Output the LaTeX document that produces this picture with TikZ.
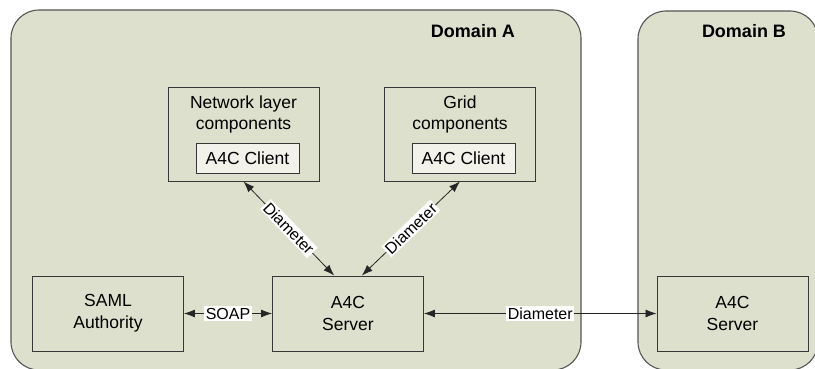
\documentclass[tikz,border=0pt]{standalone}
\usepackage{fontspec}
\setmainfont{Liberation Sans}
\usetikzlibrary{arrows.meta,positioning}

\definecolor{domfill}{RGB}{221,224,204}
\definecolor{clientfill}{RGB}{242,242,234}
\definecolor{edgegray}{RGB}{55,55,55}

\begin{document}
\begin{tikzpicture}[x=1pt,y=-1pt,
  domainbox/.style={draw=edgegray!85,fill=domfill,line width=1.1pt,rounded corners=28pt},
  compbox/.style={draw=edgegray,line width=0.9pt,minimum width=151pt,minimum height=75pt,align=center,
    font=\fontsize{17.5}{22}\selectfont},
  clientbox/.style={draw=edgegray,fill=clientfill,line width=0.9pt,minimum width=103pt,minimum height=30pt,
    inner sep=0pt,font=\fontsize{17.5}{21}\selectfont},
  proto/.style={fill=white,inner sep=1.5pt,font=\fontsize{16}{18}\selectfont},
  link/.style={{Latex[length=11pt,width=8pt]}-{Latex[length=11pt,width=8pt]},line width=0.8pt,draw=black!85}]

\useasboundingbox (0,0) rectangle (815,369);

%Domains
\draw[domainbox] (11,10) rectangle (581,370);
\draw[domainbox] (638,11) rectangle (818,370);
\node (domA) at (473,31) {\fontsize{18}{20}\selectfont\bfseries Domain A};
\node (domB) at (744,31) {\fontsize{18}{20}\selectfont\bfseries Domain B};

%Components in Domain A
\node[compbox,minimum height=94pt] (net) at (243.5,134) {};
\node[align=center,font=\fontsize{17.5}{21}\selectfont] (nettext) at (243.5,114) {Network layer\\components};
\node[clientbox] (netclient) at (247.5,158) {A4C Client};

\node[compbox,minimum height=94pt] (grid) at (460,134) {};
\node[align=center,font=\fontsize{17.5}{21}\selectfont] (gridtext) at (460,114) {Grid\\components};
\node[clientbox] (gridclient) at (463.5,158) {A4C Client};

\node[compbox] (saml) at (108,313.5) {SAML\\Authority};
\node[compbox] (srvA) at (348,313.5) {A4C\\Server};

%Server in Domain B
\node[compbox] (srvB) at (732.5,313.5) {A4C\\Server};

%Drawing protocol links
\draw[link] (saml) -- node[proto] {SOAP} (srvA);
\draw[link] (net.south) -- node[proto,sloped] {Diameter} (srvA.110);
\draw[link] (grid.south) -- node[proto,sloped] {Diameter} (srvA.70);
\draw[link] (srvA.east) -- node[proto] {Diameter} (srvB.west);
\end{tikzpicture}
\end{document}
